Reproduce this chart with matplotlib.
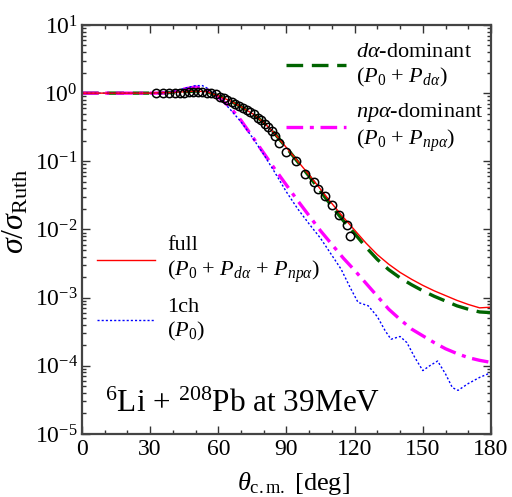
import matplotlib
matplotlib.use("Agg")
import matplotlib.pyplot as plt
import numpy as np
from matplotlib.ticker import MultipleLocator, FixedLocator, LogFormatterMathtext, NullFormatter

plt.rcParams["font.family"] = "Liberation Serif"
plt.rcParams["mathtext.fontset"] = "custom"
plt.rcParams["mathtext.rm"] = "Liberation Serif"
plt.rcParams["mathtext.it"] = "Liberation Serif:italic"
plt.rcParams["axes.unicode_minus"] = False

# ---- data (log10 of sigma/sigma_Ruth) ----
full_deg = [0, 10, 20, 30, 35, 40, 45, 50, 55, 60, 65, 70, 75, 80, 85, 90, 95, 100,
            105, 110, 115, 120, 125, 130, 135, 140, 145, 150, 155, 160, 165, 170, 175, 180]
full_log = [0, 0, 0, 0, 0.005, 0.01, 0.02, 0.03, 0.02, -0.04, -0.11, -0.2, -0.3, -0.43,
            -0.6, -0.8, -1.0, -1.2, -1.41, -1.62, -1.82, -2.01, -2.2, -2.37, -2.51, -2.63,
            -2.73, -2.82, -2.9, -2.97, -3.04, -3.1, -3.15, -3.14]

da_deg = [0, 10, 20, 30, 35, 40, 45, 50, 55, 60, 65, 70, 75, 80, 85, 90, 95, 100,
          105, 110, 115, 120, 125, 130, 135, 140, 145, 150, 155, 160, 165, 170, 175, 180]
da_log = [0, 0, 0, 0, 0.005, 0.01, 0.02, 0.03, 0.02, -0.04, -0.11, -0.2, -0.3, -0.43,
          -0.6, -0.8, -1.01, -1.22, -1.44, -1.66, -1.87, -2.06, -2.26, -2.44, -2.59, -2.71,
          -2.81, -2.9, -2.98, -3.05, -3.12, -3.17, -3.21, -3.22]

npa_deg = [0, 10, 20, 30, 35, 40, 45, 50, 55, 60, 65, 70, 74, 80, 85, 90, 95, 100,
           105, 110, 115, 120, 125, 130, 135, 140, 145, 150, 155, 160, 165, 170, 175, 180]
npa_log = [0, 0, 0, 0, 0, 0.02, 0.06, 0.09, 0.05, -0.06, -0.2, -0.4, -0.59, -0.88,
           -1.12, -1.35, -1.58, -1.8, -2.02, -2.22, -2.42, -2.6, -2.79, -2.98, -3.17,
           -3.32, -3.46, -3.56, -3.66, -3.75, -3.82, -3.88, -3.92, -3.95]

one_deg = [0, 10, 20, 30, 35, 40, 45, 50, 53, 57, 60, 65, 70, 75, 80, 85, 90, 95, 100,
           105, 110, 114, 118, 121.5, 126, 130, 133.5, 136, 140, 143, 146.5, 150, 153,
           156.5, 160, 163, 165.5, 170, 175, 180]
one_log = [0, 0, 0, 0, 0, 0.02, 0.07, 0.11, 0.11, 0.04, -0.05, -0.23, -0.42, -0.65, -0.9,
           -1.17, -1.45, -1.7, -1.92, -2.13, -2.38, -2.58, -2.85, -3.07, -3.12, -3.28,
           -3.49, -3.61, -3.57, -3.66, -3.88, -4.07, -4.0, -3.93, -4.12, -4.32, -4.36,
           -4.26, -4.17, -4.10]

exp_deg = [32.5, 35.5, 38.5, 41, 43, 45, 47, 49, 51, 53, 55, 57, 59, 60.7, 62.5, 64, 66,
           67.5, 69, 71, 72.5, 74, 75.5, 77.5, 79, 80.5, 82, 83.5, 85, 86.7, 90, 94, 98,
           102, 104, 107, 110, 113, 116.5, 118]
exp_log = [0, -0.005, 0, 0, 0, 0.005, 0.01, 0.01, 0.01, 0.01, 0.005, 0, -0.02, -0.05,
           -0.07, -0.1, -0.13, -0.16, -0.19, -0.22, -0.25, -0.28, -0.31, -0.36, -0.40,
           -0.45, -0.5, -0.56, -0.63, -0.73, -0.87, -1.0, -1.18, -1.31, -1.41, -1.51,
           -1.64, -1.79, -1.93, -2.1]

y_decades = [-5, -4, -3, -2, -1, 0, 1]

fig = plt.figure(figsize=(5.12, 4.97), dpi=100)
ax = fig.add_axes([0.160, 0.1268, 0.799, 0.823])

l_da, = ax.plot(da_deg, 10 ** np.array(da_log), color="#006400", lw=2.4,
                dashes=(5.0, 2.6), label="$d\\alpha$-dominant\n($P_0$ + $P_{d\\alpha}$)")
l_npa, = ax.plot(npa_deg, 10 ** np.array(npa_log), color="#ff00ff", lw=2.4,
                 dashes=(5.0, 2.0, 1.2, 2.0),
                 label="$np\\alpha$-dominant\n($P_0$ + $P_{np\\alpha}$)")
l_one, = ax.plot(one_deg, 10 ** np.array(one_log), color="#0000ff", lw=1.0,
                 dashes=(1.5, 1.5), label="1ch\n($P_0$)")
l_full, = ax.plot(full_deg, 10 ** np.array(full_log), color="#ff0000", lw=1.0,
                  label="full\n($P_0$ + $P_{d\\alpha}$ + $P_{np\\alpha}$)")
ax.plot(exp_deg, 10 ** np.array(exp_log), "o", ms=6, mfc="none", mec="black", mew=1.1)

ax.set_yscale("log")
ax.set_xlim(0, 180)
ax.set_ylim(1e-5, 1e1)
ax.xaxis.set_major_locator(MultipleLocator(30))
ax.xaxis.set_minor_locator(MultipleLocator(10))
major_y = [10.0 ** d for d in y_decades]
minor_y = [m * 10.0 ** d for d in y_decades[:-1] for m in range(2, 10)]
ax.yaxis.set_major_locator(FixedLocator(major_y))
ax.yaxis.set_minor_locator(FixedLocator(minor_y))
ax.yaxis.set_major_formatter(LogFormatterMathtext())
ax.yaxis.set_minor_formatter(NullFormatter())
ax.tick_params(which="both", direction="in", top=True, right=True, labelsize=17,
               color="#333333", width=1.0)
ax.tick_params(axis="y", pad=3)
ax.tick_params(which="major", length=6)
ax.tick_params(which="minor", length=3)
for s in ax.spines.values():
    s.set_color("#444444")
    s.set_linewidth(1.6)

ax.set_xlabel("$\\theta_{\\rm c.m.}$ [deg]", fontsize=19, va="bottom")
ax.xaxis.set_label_coords(0.516, -0.155)
ax.set_ylabel("$\\sigma/\\sigma_{\\rm Ruth}$", fontsize=23)
ax.yaxis.set_label_coords(-0.125, 0.545)

leg1 = ax.legend(handles=[l_da, l_npa], loc="upper left", bbox_to_anchor=(0.499, 0.955),
                 frameon=False, fontsize=16, handlelength=2.7, handletextpad=0.45,
                 labelspacing=0.55, borderpad=0, borderaxespad=0)
ax.add_artist(leg1)
ax.legend(handles=[l_full, l_one], loc="upper left", bbox_to_anchor=(0.037, 0.483),
          frameon=False, fontsize=16, handlelength=2.6, handletextpad=0.55,
          labelspacing=0.55, borderpad=0, borderaxespad=0)

ax.text(10, 10 ** -4.68, "$^{6}$Li + $^{208}$Pb at 39MeV", fontsize=22.5)

fig.savefig("out.png", dpi=100)
